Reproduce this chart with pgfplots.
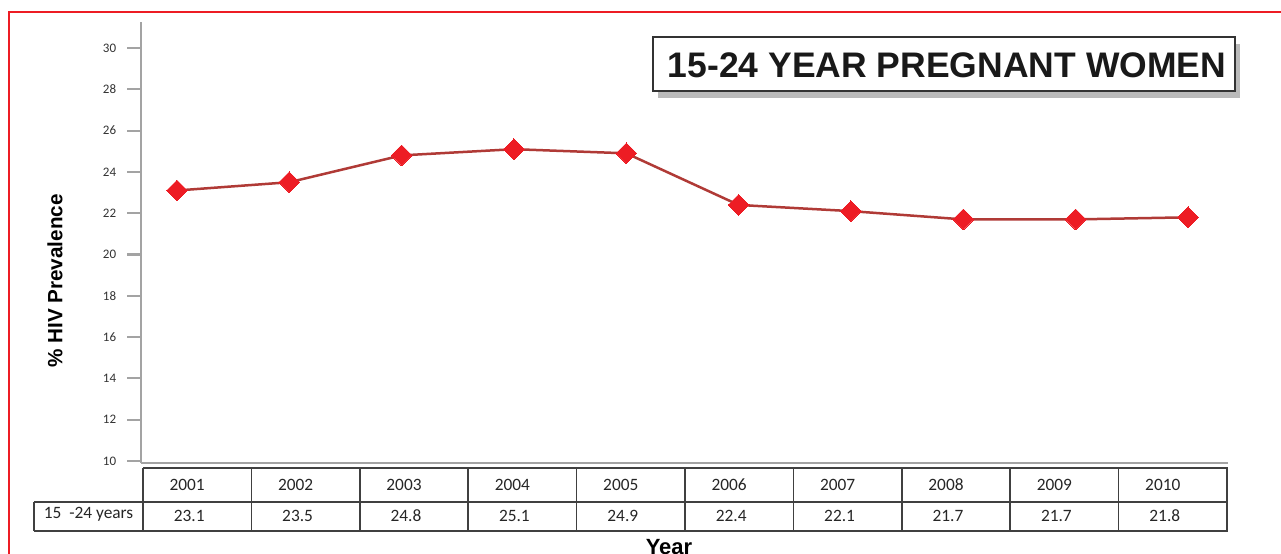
\documentclass[border=0pt]{standalone}
\usepackage{pgfplots}
\pgfplotsset{compat=1.18}
\usepackage{fontspec}
\setmainfont{Carlito}
\newfontfamily\arialf{Liberation Sans}
\usetikzlibrary{shadows}
\definecolor{bordred}{HTML}{ED1C24}
\definecolor{linered}{HTML}{B03A36}
\definecolor{markred}{HTML}{ED1C24}
\definecolor{axisgray}{HTML}{A3A3A3}
\definecolor{tabgray}{HTML}{404040}
\begin{document}
\begin{tikzpicture}
\begin{scope}[x=0.6pt,y=-0.6pt,shift={(0pt,332.4pt)}]
\fill[white] (0,0) rectangle (1281,554);
\draw[bordred, line width=1.3pt] (1281,12) -- (9,12) -- (9,554);
\end{scope}
\begin{axis}[
  at={(84.6pt,54.6pt)}, anchor=south west,
  scale only axis, width=652.2pt, height=264.6pt,
  xmin=2000.68, xmax=2010.356, ymin=9.903, ymax=31.26,
  axis x line*=bottom, axis y line*=left,
  axis line style={draw=axisgray, line width=1.3pt, -},
  xtick=\empty,
  ytick={10,12,...,30},
  tick align=outside,
  major tick length=8.4pt,
  y tick style={draw=axisgray, line width=1.3pt},
  /pgf/number format/assume math mode=true,
  yticklabel style={font=\fontsize{7.8}{8}\selectfont, text=black!80, xshift=-3pt},
  clip=false,
]
\addplot[linered, line width=1.5pt, mark=square*, mark size=4.4pt,
  mark options={rotate=45, fill=markred, draw=markred, line width=0pt}]
  coordinates {(2001,23.1) (2002,23.5) (2003,24.8) (2004,25.1) (2005,24.9)
               (2006,22.4) (2007,22.1) (2008,21.7) (2009,21.7) (2010,21.8)};
\end{axis}
\begin{scope}[x=0.6pt,y=-0.6pt,shift={(0pt,332.4pt)}]
\node[rotate=90, font=\arialf\bfseries\fontsize{12.4}{14}\selectfont] at (55,281) {\% HIV Prevalence};
\node[anchor=base, font=\arialf\bfseries\fontsize{13.2}{15}\selectfont] at (669,555) {Year};
\def\cw{108.4}
\draw[tabgray, line width=1.3pt] (143,468) -- (1228,468);
\draw[tabgray, line width=1.3pt] (34,502) -- (1228,502);
\draw[tabgray, line width=0.9pt] (34,531) -- (1228,531);
\draw[tabgray, line width=0.9pt] (34,502) -- (34,531);
\foreach \i in {0,...,10}{
  \draw[tabgray, line width=0.9pt] ({143+\cw*\i},468) -- ({143+\cw*\i},531);
}
\foreach \yr/\v [count=\i from 0] in {2001/23.1,2002/23.5,2003/24.8,2004/25.1,2005/24.9,2006/22.4,2007/22.1,2008/21.7,2009/21.7,2010/21.8}{
  \node[font=\fontsize{10.4}{12}\selectfont, text=black!85] at ({143+\cw*(\i+0.5)-10},485) {\yr};
  \node[font=\fontsize{10.4}{12}\selectfont, text=black!85] at ({143+\cw*(\i+0.5)-8},516) {\v};
}
\node[anchor=west, font=\fontsize{10.4}{12}\selectfont, text=black!85] at (38,514) {15\ \ -24 years};
\node[draw=black!80, line width=0.9pt, fill=white,
  drop shadow={shadow xshift=3pt, shadow yshift=-4pt, opacity=0.45, fill=black!60},
  minimum width=349.2pt, minimum height=32.4pt] at (944,64) {};
\node[font=\arialf\bfseries\fontsize{21.3}{24}\selectfont, text=black!90] at (947,65) {15-24 YEAR PREGNANT WOMEN};
\pgfresetboundingbox
\path[use as bounding box] (0,0) rectangle (1281,554);
\end{scope}
\end{tikzpicture}
\end{document}
